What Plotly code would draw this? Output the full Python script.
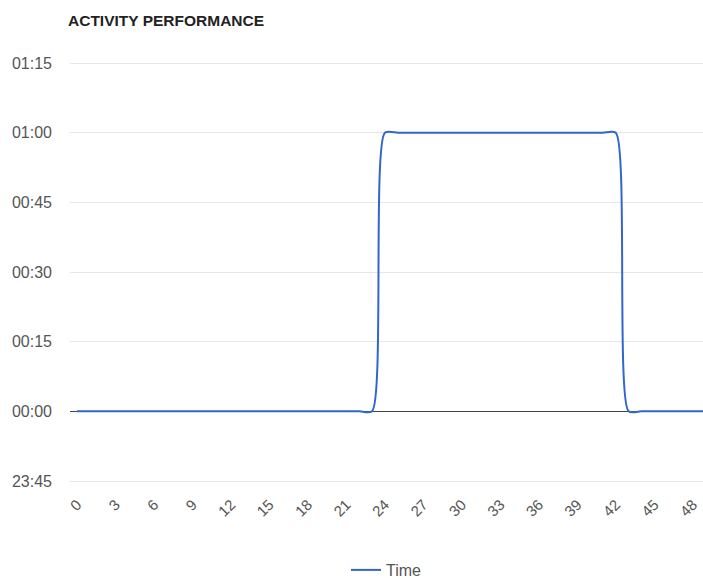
import plotly.graph_objects as go

# Data (x index, value in minutes)
x_vals = [0, 1, 2, 3, 4, 5, 6, 7, 8, 9, 10, 11, 12, 13, 14, 15, 16, 17, 18, 19,
          20, 21, 22, 23, 24, 25, 26, 27, 28, 29, 30, 31, 32, 33, 34, 35, 36, 37, 38, 39,
          40, 41, 42, 43, 44, 45, 46, 47, 48, 49]
time_minutes = [0, 0, 0, 0, 0, 0, 0, 0, 0, 0, 0, 0, 0, 0, 0, 0, 0, 0, 0, 0,
                0, 0, 0, 0, 60, 60, 60, 60, 60, 60, 60, 60, 60, 60, 60, 60, 60, 60, 60, 60,
                60, 60, 60, 0, 0, 0, 0, 0, 0, 0]

x_tick_vals = [0, 3, 6, 9, 12, 15, 18, 21, 24, 27, 30, 33, 36, 39, 42, 45, 48]
y_tick_vals = [-15, 0, 15, 30, 45, 60, 75]
y_tick_text = ["23:45", "00:00", "00:15", "00:30", "00:45", "01:00", "01:15"]

FONT = "Liberation Sans, Arial, sans-serif"

fig = go.Figure()
fig.add_trace(go.Scatter(
    x=x_vals, y=time_minutes, mode="lines", name="Time",
    line=dict(color="#3366cc", width=2, shape="spline", smoothing=0.7),
))

fig.update_layout(
    width=703, height=578,
    margin=dict(l=70, r=0, t=61, b=95, autoexpand=False),
    paper_bgcolor="white", plot_bgcolor="white",
    font=dict(family=FONT, color="#555"),
    title=dict(text="<b>ACTIVITY PERFORMANCE</b>", x=68 / 703, xanchor="left",
               y=1 - 21 / 578, yanchor="middle",
               font=dict(family=FONT, size=15.5, color="#222")),
    showlegend=True,
    legend=dict(orientation="h", x=0.5, xanchor="center", y=-87 / 422, yanchor="middle",
                font=dict(family=FONT, size=16, color="#555"), itemwidth=30),
    xaxis=dict(range=[-0.55, 48.8], tickmode="array", tickvals=x_tick_vals,
               tickangle=-45, showgrid=False, zeroline=False, showline=False,
               ticks="", ticklabelstandoff=9, automargin=False,
               tickfont=dict(family=FONT, size=15, color="#555")),
    yaxis=dict(range=[-15.43, 75.43], tickmode="array", tickvals=y_tick_vals, ticktext=y_tick_text,
               showgrid=True, gridcolor="#e6e6e6", gridwidth=1,
               zeroline=True, zerolinecolor="#444", zerolinewidth=1,
               showline=False, ticks="", ticklabelstandoff=17, automargin=False,
               tickfont=dict(family=FONT, size=16, color="#555")),
)

fig.write_html("out.html", config={"displayModeBar": False},
               post_script="document.body.style.margin='0';")
